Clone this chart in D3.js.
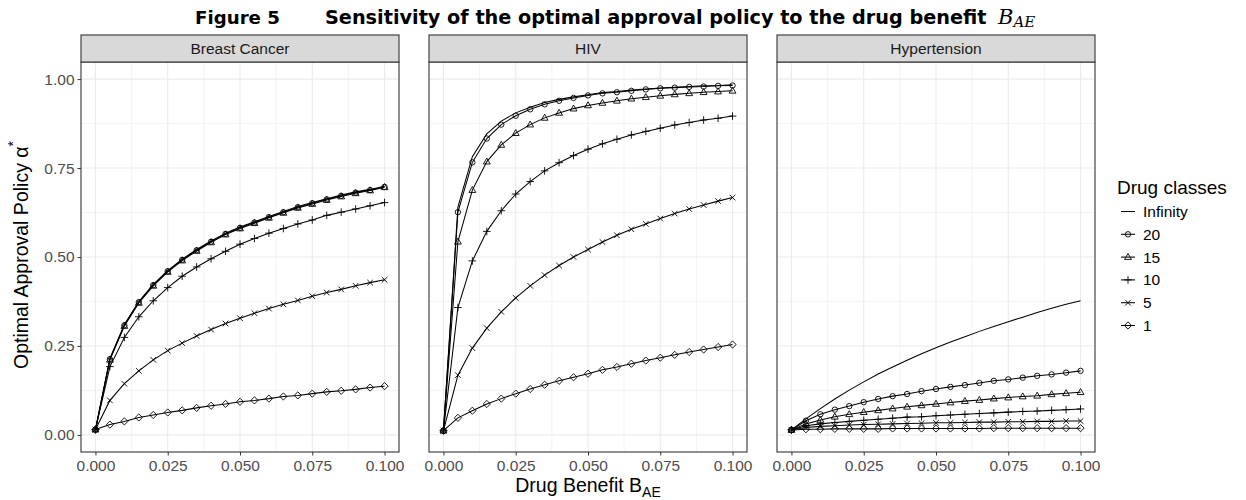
<!DOCTYPE html>
<html lang="en">
<head>
<meta charset="UTF-8">
<title>Figure 5</title>
<script src="https://d3js.org/d3.v7.min.js"></script>
<style>
  body { margin: 0; background: #fff; }
  svg { font-family: "Liberation Sans", Arial, sans-serif; }
</style>
</head>
<body>
<svg id="chart" width="1246" height="500"></svg>
<script>
// x values (drug benefit B_AE)
var benefit = [0, 0.005, 0.01, 0.015, 0.02, 0.025, 0.03, 0.035, 0.04, 0.045, 0.05,
               0.055, 0.06, 0.065, 0.07, 0.075, 0.08, 0.085, 0.09, 0.095, 0.1];

var panelNames = ["Breast Cancer", "HIV", "Hypertension"];
var classNames = ["Infinity", "20", "15", "10", "5", "1"];
var xTicks = [0, 0.025, 0.05, 0.075, 0.1];
var yTicks = [0, 0.25, 0.5, 0.75, 1];

// Breast Cancer
var breastInf = [0.015, 0.215, 0.310, 0.375, 0.423, 0.462, 0.494, 0.521, 0.545, 0.567, 0.584, 0.599, 0.614, 0.628, 0.642, 0.653, 0.664, 0.674, 0.683, 0.690, 0.699];
var breast20  = [0.015, 0.213, 0.308, 0.373, 0.421, 0.460, 0.492, 0.519, 0.543, 0.565, 0.582, 0.597, 0.612, 0.626, 0.640, 0.651, 0.662, 0.672, 0.681, 0.688, 0.697];
var breast15  = [0.015, 0.211, 0.306, 0.371, 0.419, 0.458, 0.490, 0.517, 0.541, 0.563, 0.580, 0.595, 0.610, 0.624, 0.638, 0.649, 0.660, 0.670, 0.679, 0.687, 0.696];
var breast10  = [0.015, 0.192, 0.274, 0.332, 0.377, 0.414, 0.446, 0.472, 0.495, 0.516, 0.536, 0.552, 0.567, 0.580, 0.593, 0.604, 0.617, 0.626, 0.635, 0.644, 0.653];
var breast5   = [0.015, 0.097, 0.144, 0.180, 0.211, 0.237, 0.258, 0.278, 0.296, 0.313, 0.328, 0.342, 0.355, 0.367, 0.378, 0.390, 0.400, 0.409, 0.419, 0.428, 0.436];
var breast1   = [0.015, 0.029, 0.038, 0.049, 0.056, 0.063, 0.069, 0.076, 0.082, 0.087, 0.093, 0.097, 0.102, 0.108, 0.111, 0.116, 0.121, 0.124, 0.128, 0.133, 0.137];

// HIV
var hivInf = [0.012, 0.640, 0.782, 0.846, 0.882, 0.905, 0.921, 0.934, 0.943, 0.950, 0.956, 0.962, 0.965, 0.969, 0.972, 0.975, 0.977, 0.979, 0.981, 0.982, 0.984];
var hiv20  = [0.012, 0.626, 0.766, 0.833, 0.872, 0.897, 0.915, 0.929, 0.939, 0.947, 0.954, 0.960, 0.963, 0.967, 0.971, 0.974, 0.976, 0.978, 0.979, 0.981, 0.982];
var hiv15  = [0.012, 0.543, 0.688, 0.768, 0.815, 0.848, 0.872, 0.891, 0.905, 0.917, 0.926, 0.933, 0.939, 0.945, 0.949, 0.953, 0.957, 0.960, 0.963, 0.965, 0.967];
var hiv10  = [0.012, 0.358, 0.489, 0.572, 0.630, 0.677, 0.712, 0.742, 0.765, 0.785, 0.803, 0.818, 0.831, 0.843, 0.853, 0.862, 0.871, 0.878, 0.885, 0.890, 0.896];
var hiv5   = [0.012, 0.168, 0.244, 0.300, 0.346, 0.385, 0.419, 0.449, 0.476, 0.500, 0.521, 0.542, 0.561, 0.578, 0.593, 0.608, 0.622, 0.635, 0.646, 0.657, 0.667];
var hiv1   = [0.012, 0.048, 0.068, 0.087, 0.102, 0.116, 0.129, 0.141, 0.152, 0.162, 0.172, 0.183, 0.191, 0.200, 0.209, 0.217, 0.225, 0.233, 0.240, 0.247, 0.254];

// Hypertension
var hyperInf = [0.014, 0.045, 0.074, 0.101, 0.126, 0.149, 0.171, 0.191, 0.210, 0.228, 0.245, 0.261, 0.276, 0.291, 0.305, 0.318, 0.331, 0.344, 0.356, 0.367, 0.377];
var hyper20  = [0.014, 0.040, 0.058, 0.071, 0.081, 0.092, 0.101, 0.109, 0.115, 0.123, 0.129, 0.135, 0.140, 0.146, 0.152, 0.156, 0.161, 0.166, 0.170, 0.175, 0.180];
var hyper15  = [0.014, 0.031, 0.042, 0.051, 0.058, 0.064, 0.069, 0.074, 0.079, 0.083, 0.087, 0.091, 0.095, 0.098, 0.102, 0.105, 0.108, 0.110, 0.114, 0.117, 0.120];
var hyper10  = [0.014, 0.026, 0.031, 0.035, 0.038, 0.041, 0.044, 0.047, 0.050, 0.051, 0.054, 0.056, 0.058, 0.060, 0.062, 0.064, 0.066, 0.067, 0.069, 0.071, 0.073];
var hyper5   = [0.014, 0.021, 0.024, 0.026, 0.028, 0.029, 0.030, 0.031, 0.032, 0.033, 0.034, 0.034, 0.035, 0.036, 0.036, 0.037, 0.037, 0.038, 0.038, 0.039, 0.039];
var hyper1   = [0.014, 0.016, 0.016, 0.017, 0.017, 0.017, 0.017, 0.018, 0.018, 0.018, 0.018, 0.018, 0.018, 0.018, 0.019, 0.019, 0.019, 0.019, 0.019, 0.019, 0.019];

var panelSeries = [
  [breastInf, breast20, breast15, breast10, breast5, breast1],
  [hivInf, hiv20, hiv15, hiv10, hiv5, hiv1],
  [hyperInf, hyper20, hyper15, hyper10, hyper5, hyper1]
];

var svg = d3.select("#chart");

var panelLeft = [81, 429, 777], panelW = 318;
var stripTop = 35, plotTop = 62, plotBottom = 452;
var tickFont = 15.5, titleFont = 19.5;

var y = d3.scaleLinear().domain([-0.048, 1.048]).range([plotBottom, plotTop]);

// marker paths, ggplot shapes 1..5
function shapePath(name) {
  var s;
  if (name == "20") { s = 2.7; return "M" + s + ",0A" + s + "," + s + " 0 1,1 " + (-s) + ",0A" + s + "," + s + " 0 1,1 " + s + ",0Z"; }
  if (name == "15") { s = 3.6; return "M0," + (-s) + "L" + (s * 0.95) + "," + (s * 0.65) + "L" + (-s * 0.95) + "," + (s * 0.65) + "Z"; }
  if (name == "10") { s = 3.8; return "M" + (-s) + ",0H" + s + "M0," + (-s) + "V" + s; }
  if (name == "5")  { s = 2.8; return "M" + (-s) + "," + (-s) + "L" + s + "," + s + "M" + (-s) + "," + s + "L" + s + "," + (-s); }
  if (name == "1")  { s = 3.6; return "M0," + (-s) + "L" + s + ",0L0," + s + "L" + (-s) + ",0Z"; }
  return null;
}

panelNames.forEach(function(pname, p) {
  var x0 = panelLeft[p];
  var x = d3.scaleLinear().domain([-0.005, 0.105]).range([x0, x0 + panelW]);
  var g = svg.append("g");

  // grid
  var xMinor = [0.0125, 0.0375, 0.0625, 0.0875];
  var yMinor = [0.125, 0.375, 0.625, 0.875];
  g.selectAll(".vminor").data(xMinor).enter().append("line")
    .attr("x1", d => x(d)).attr("x2", d => x(d)).attr("y1", plotTop).attr("y2", plotBottom)
    .attr("stroke", "#ebebeb").attr("stroke-width", 0.6);
  g.selectAll(".hminor").data(yMinor).enter().append("line")
    .attr("x1", x0).attr("x2", x0 + panelW).attr("y1", d => y(d)).attr("y2", d => y(d))
    .attr("stroke", "#ebebeb").attr("stroke-width", 0.6);
  g.selectAll(".vmajor").data(xTicks).enter().append("line")
    .attr("x1", d => x(d)).attr("x2", d => x(d)).attr("y1", plotTop).attr("y2", plotBottom)
    .attr("stroke", "#ebebeb").attr("stroke-width", 1.1);
  g.selectAll(".hmajor").data(yTicks).enter().append("line")
    .attr("x1", x0).attr("x2", x0 + panelW).attr("y1", d => y(d)).attr("y2", d => y(d))
    .attr("stroke", "#ebebeb").attr("stroke-width", 1.1);

  // series
  var line = d3.line().x((d, i) => x(benefit[i])).y(d => y(d));
  panelSeries[p].forEach(function(vals, k) {
    g.append("path").attr("d", line(vals))
      .attr("fill", "none").attr("stroke", "#000").attr("stroke-width", 1.05);
    var sp = shapePath(classNames[k]);
    if (sp) {
      g.selectAll(null).data(vals).enter().append("path")
        .attr("d", sp)
        .attr("transform", (d, i) => "translate(" + x(benefit[i]) + "," + y(d) + ")")
        .attr("fill", "none").attr("stroke", "#000").attr("stroke-width", 0.9);
    }
  });

  // border
  g.append("rect").attr("x", x0).attr("y", plotTop).attr("width", panelW).attr("height", plotBottom - plotTop)
    .attr("fill", "none").attr("stroke", "#333").attr("stroke-width", 1.1);

  // strip
  g.append("rect").attr("x", x0).attr("y", stripTop).attr("width", panelW).attr("height", plotTop - stripTop)
    .attr("fill", "#d9d9d9").attr("stroke", "#333").attr("stroke-width", 1.1);
  g.append("text").attr("x", x0 + panelW / 2).attr("y", (stripTop + plotTop) / 2 + 5.5)
    .attr("text-anchor", "middle").attr("font-size", tickFont).attr("fill", "#1a1a1a").text(pname);

  // x axis
  var xa = g.append("g").attr("transform", "translate(0," + plotBottom + ")")
    .call(d3.axisBottom(x).tickValues(xTicks).tickFormat(d3.format(".3f")).tickSize(3.5).tickPadding(4));
  xa.select(".domain").remove();
  xa.selectAll("line").attr("stroke", "#333");
  xa.selectAll("text").attr("font-size", tickFont).attr("fill", "#4d4d4d").attr("font-family", null);

  if (p == 0) {
    var ya = g.append("g").attr("transform", "translate(" + x0 + ",0)")
      .call(d3.axisLeft(y).tickValues(yTicks).tickFormat(d3.format(".2f")).tickSize(3.5).tickPadding(3));
    ya.select(".domain").remove();
    ya.selectAll("line").attr("stroke", "#333");
    ya.selectAll("text").attr("font-size", tickFont).attr("fill", "#4d4d4d").attr("font-family", null);
  }
});

// axis titles
var xt = svg.append("text").attr("x", 588).attr("y", 492).attr("text-anchor", "middle")
  .attr("font-size", titleFont).attr("fill", "#000");
xt.append("tspan").text("Drug Benefit B");
xt.append("tspan").attr("font-size", 14).attr("dy", 5).text("AE");

var yt = svg.append("text").attr("transform", "translate(28,255) rotate(-90)")
  .attr("text-anchor", "middle").attr("font-size", titleFont).attr("fill", "#000");
yt.append("tspan").text("Optimal Approval Policy \u03b1");
yt.append("tspan").attr("font-size", 14).attr("dy", -10).text("*");

// title: fit the two bold parts to the widths seen in the figure
var tfig = svg.append("text").attr("x", 195).attr("y", 24).attr("font-size", 19)
  .attr("font-weight", "bold").attr("fill", "#000").attr("font-family", "DejaVu Sans, sans-serif")
  .text("Figure 5");
tfig.attr("font-size", 19 * 85 / tfig.node().getComputedTextLength());
var tmain = svg.append("text").attr("x", 325).attr("y", 24).attr("font-size", 19)
  .attr("font-weight", "bold").attr("fill", "#000").attr("font-family", "DejaVu Sans, sans-serif")
  .text("Sensitivity of the optimal approval policy to the drug benefit");
tmain.attr("font-size", 19 * 662 / tmain.node().getComputedTextLength());
var bt = svg.append("text").attr("x", 998).attr("y", 24).attr("font-size", 21).attr("font-style", "italic")
  .attr("font-family", "DejaVu Serif, Liberation Serif, serif").attr("fill", "#000");
bt.append("tspan").text("B");
bt.append("tspan").attr("font-size", 15).attr("dy", 3).text("AE");

// legend
var lg = svg.append("g");
lg.append("text").attr("x", 1117).attr("y", 194).attr("font-size", 19).attr("fill", "#000").text("Drug classes");
classNames.forEach(function(c, k) {
  var cy = 211.5 + k * 22.8;
  lg.append("line").attr("x1", 1121).attr("x2", 1135).attr("y1", cy).attr("y2", cy)
    .attr("stroke", "#000").attr("stroke-width", 1.05);
  var sp = shapePath(c);
  if (sp) lg.append("path").attr("d", sp).attr("transform", "translate(1128," + cy + ")")
    .attr("fill", "none").attr("stroke", "#000").attr("stroke-width", 0.9);
  lg.append("text").attr("x", 1143).attr("y", cy + 5.5).attr("font-size", tickFont).attr("fill", "#000").text(c);
});
</script>
</body>
</html>
